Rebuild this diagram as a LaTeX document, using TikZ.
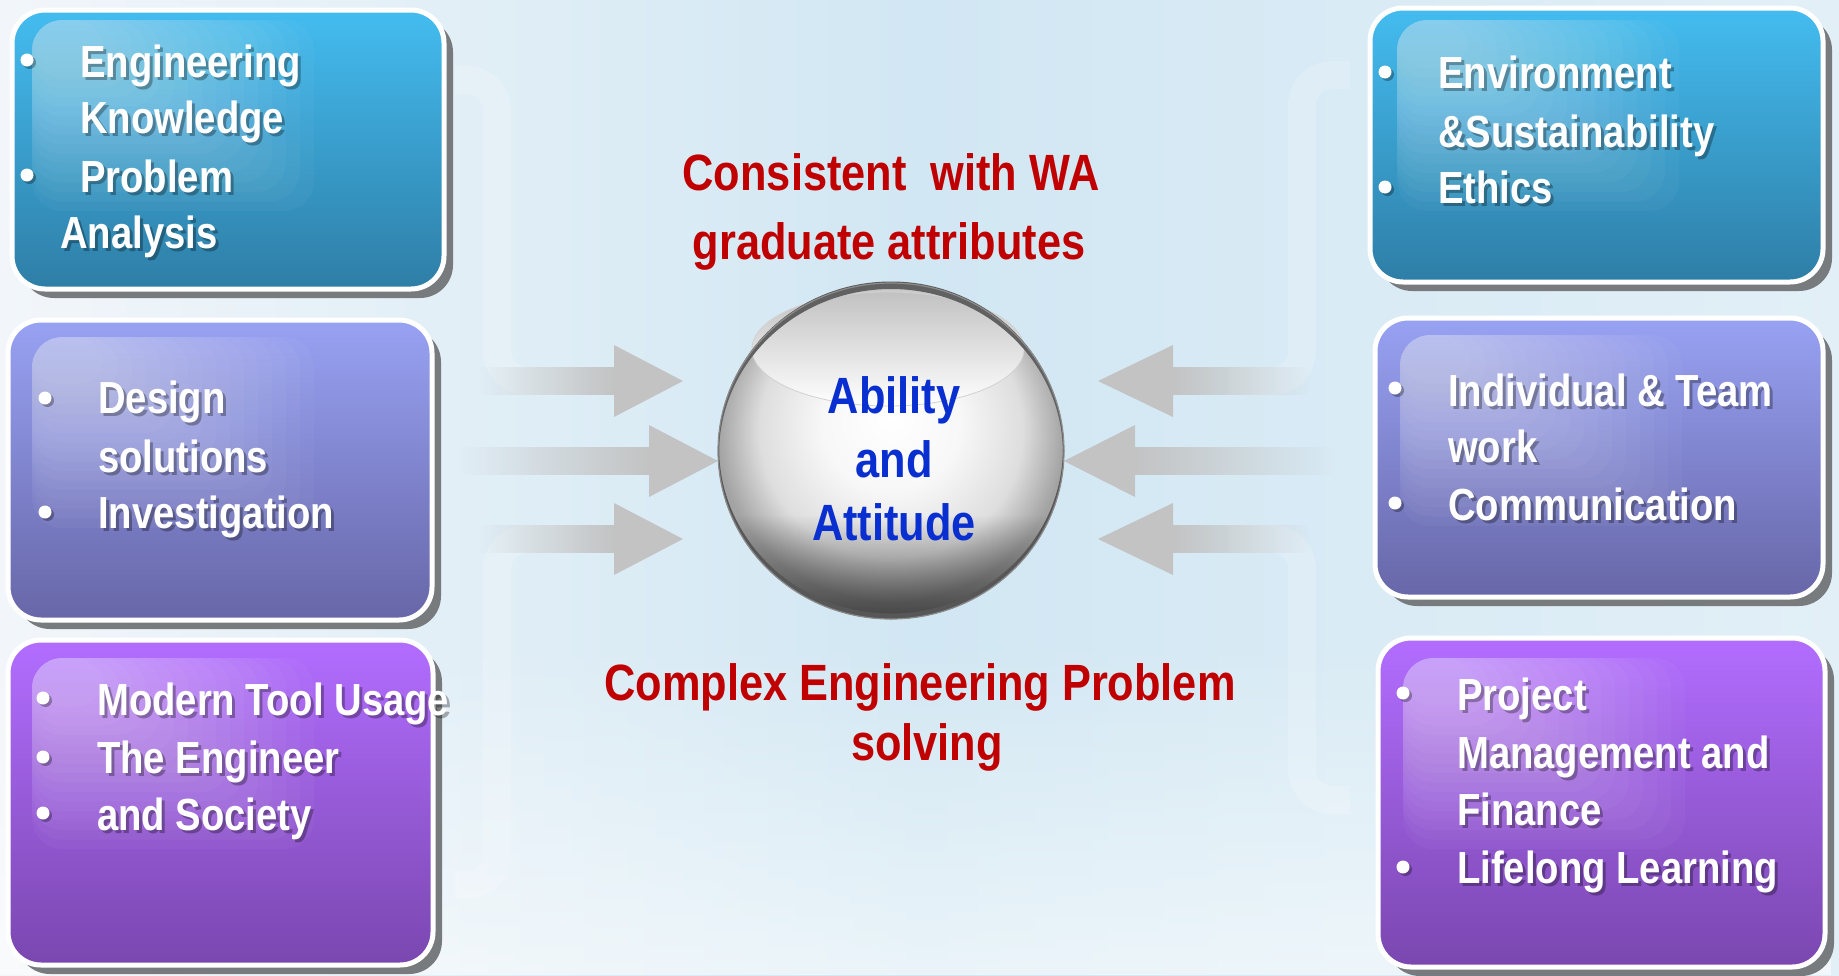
\documentclass[tikz,border=0pt]{standalone}
\usepackage{fontspec}
\newfontfamily\nb{Liberation Sans}[FakeStretch=0.85]
\usetikzlibrary{shapes.geometric,shadows,fadings}

\definecolor{bgL}{HTML}{F2F6FA}
\definecolor{bgM}{HTML}{D1E7F3}
\definecolor{bgR}{HTML}{E2EFF7}
\definecolor{blueT}{HTML}{44BCF0}
\definecolor{blueB}{HTML}{2E7EA6}
\definecolor{periT}{HTML}{98A2F3}
\definecolor{periB}{HTML}{6766A8}
\definecolor{purT}{HTML}{B26DFF}
\definecolor{purB}{HTML}{7A47AF}
\definecolor{shadowgray}{HTML}{777B7E}
\definecolor{arrowgray}{HTML}{C3C3C3}
\definecolor{redtxt}{HTML}{C00000}
\definecolor{bluetxt}{HTML}{0A2FD0}

\tikzfading[name=shaftR, left color=transparent!100, right color=transparent!0]
\tikzfading[name=shaftL, left color=transparent!0, right color=transparent!100]
\tikzfading[name=darkdown, top color=transparent!100, bottom color=transparent!40]
\tikzfading[name=lightbottom, top color=transparent!100, bottom color=transparent!45]

\pgfdeclareradialshading{sphereshade}{\pgfpoint{0bp}{5bp}}{color(0bp)=(white); color(10bp)=(white!97!black); color(19bp)=(white!87!black); color(25bp)=(white!64!black); color(50bp)=(white!64!black)}

\tikzset{
  box/.style={draw=white, line width=5pt, rounded corners=33pt, anchor=north west, inner sep=0pt,
    drop shadow={shadow xshift=9pt, shadow yshift=-9pt, fill=shadowgray, opacity=1}},
  wtxt/.style={anchor=base west, inner sep=0pt, text=white, font=\nb\bfseries\fontsize{45}{57}\selectfont},
  rtxt/.style={anchor=base, inner sep=0pt, text=redtxt, font=\nb\bfseries\fontsize{51}{60}\selectfont},
  btxt/.style={anchor=base, inner sep=0pt, text=bluetxt, font=\nb\bfseries\fontsize{51}{60}\selectfont},
  bulletdot/.style={circle, fill=white, minimum size=13pt, inner sep=0pt},
  bulletshadow/.style={circle, fill=black, opacity=0.3, minimum size=13pt, inner sep=0pt},
  band/.style={white, opacity=0.18, line width=28pt, rounded corners=30pt},
  glosslayer/.style={white, opacity=0.03, rounded corners=30pt},
}

\newcommand\wl[4]{%
  \node[wtxt, text=black, text opacity=0.3] at (#2+3,#3+3) {#4};
  \node[wtxt] (#1) at (#2,#3) {#4};}
\newcommand\bul[3]{%
  \node[bulletshadow] at (#2+2.5,#3+2.5) {};
  \node[bulletdot] (#1) at (#2,#3) {};}
\newcommand\glossat[2]{%
  \foreach \k in {3,...,18}{
    \fill[glosslayer] (#1,#2) rectangle ++(30+14*\k, 20+9.5*\k);
  }}
\newcommand\rarrow[5]{% name, startx, backx, tipx, cy
  \coordinate (#1) at (#4,#5);
  \fill[arrowgray, path fading=shaftR, fit fading=true] (#2,#5-14) rectangle (#3+2,#5+14);
  \fill[arrowgray] (#3,#5-36) -- (#1) -- (#3,#5+36) -- cycle;}
\newcommand\larrow[5]{% name, startx, backx, tipx, cy
  \coordinate (#1) at (#4,#5);
  \fill[arrowgray, path fading=shaftL, fit fading=true] (#3-2,#5-14) rectangle (#2,#5+14);
  \fill[arrowgray] (#3,#5-36) -- (#1) -- (#3,#5+36) -- cycle;}

\begin{document}
\begin{tikzpicture}[x=1pt, y=-1pt]
\useasboundingbox (0,0) rectangle (1839,975);
% background
\shade[left color=bgL, right color=bgR, middle color=bgM] (0,0) rectangle (1839,975);
\fill[white, path fading=lightbottom, fit fading=true] (0,640) rectangle (1839,975);

% faint connector bands
\draw[band] (455,80) -- (497,80) -- (497,381) -- (580,381);
\draw[band] (580,539) -- (497,539) -- (497,885) -- (455,885);
\draw[band] (1230,381) -- (1302,381) -- (1302,75) -- (1350,75);
\draw[band] (1230,539) -- (1302,539) -- (1302,800) -- (1350,800);

% arrows
\rarrow{aL1}{480}{614}{683}{381}
\rarrow{aL2}{460}{649}{718}{461}
\rarrow{aL3}{480}{614}{683}{539}
\larrow{aR1}{1310}{1173}{1098}{381}
\larrow{aR2}{1335}{1135}{1064}{461}
\larrow{aR3}{1310}{1173}{1098}{539}

% boxes
\node[box, top color=blueT, bottom color=blueB, minimum width=432pt, minimum height=279pt] (L1) at (9.5,7.5) {};
\node[box, top color=periT, bottom color=periB, minimum width=424pt, minimum height=300pt] (L2) at (5.5,317.5) {};
\node[box, top color=purT, bottom color=purB, minimum width=425pt, minimum height=325pt] (L3) at (5.5,637.5) {};
\node[box, top color=blueT, bottom color=blueB, minimum width=453pt, minimum height=274pt] (R1) at (1367.5,5.5) {};
\node[box, top color=periT, bottom color=periB, minimum width=448pt, minimum height=279pt] (R2) at (1372.5,315.5) {};
\node[box, top color=purT, bottom color=purB, minimum width=447pt, minimum height=329pt] (R3) at (1375.5,635.5) {};

\glossat{32}{20}
\glossat{32}{337}
\glossat{32}{658}
\glossat{1397}{20}
\glossat{1400}{335}
\glossat{1403}{658}

% box texts
\bul{bL1a}{27}{60}\bul{bL1b}{27}{175}
\wl{tEng}{80}{77}{Engineering}
\wl{tKno}{80}{133}{Knowledge}
\wl{tPro}{80}{192}{Problem}
\wl{tAna}{60}{248}{Analysis}

\bul{bL2a}{45}{398}\bul{bL2b}{45}{512}
\wl{tDes}{98}{413}{Design}
\wl{tSol}{98}{472}{solutions}
\wl{tInv}{98}{528}{Investigation}

\bul{bL3a}{43}{698}\bul{bL3b}{43}{757}\bul{bL3c}{43}{813}
\wl{tMod}{97}{715}{Modern Tool Usage}
\wl{tThe}{97}{773}{The Engineer}
\wl{tSoc}{97}{830}{and Society}

\bul{bR1a}{1385}{72}\bul{bR1b}{1385}{187}
\wl{tEnv}{1438}{88}{Environment}
\wl{tSus}{1438}{147}{\&Sustainability}
\wl{tEth}{1438}{203}{Ethics}

\bul{bR2a}{1395}{388}\bul{bR2b}{1395}{503}
\wl{tInd}{1448}{406}{Individual \& Team}
\wl{tWor}{1448}{462}{work}
\wl{tCom}{1448}{520}{Communication}

\bul{bR3a}{1403}{693}\bul{bR3b}{1403}{867}
\wl{tPrj}{1457}{710}{Project}
\wl{tMan}{1457}{768}{Management and}
\wl{tFin}{1457}{825}{Finance}
\wl{tLif}{1457}{883}{Lifelong Learning}

% central sphere
\node[ellipse, shade, shading=sphereshade, minimum width=346pt, minimum height=336pt, inner sep=0pt] (core) at (891,451) {};
\begin{scope}
  \clip (core.center) ellipse (173 and 168);
  \fill[black, path fading=darkdown, fit fading=true] (715,515) rectangle (1067,622);
\end{scope}
\shade[top color=white!76!black, bottom color=white] (888,349) ellipse (136 and 57);
\draw[white!82!black, line width=0.8pt] (888,349) ellipse (136 and 57);
% dark rims, thick at top and bottom, thin at the sides
\fill[black!62, even odd rule] (core.center) ellipse (173 and 168) (891,454) ellipse (172 and 165);
\fill[black!66, even odd rule] (core.center) ellipse (173 and 168) (891,447.5) ellipse (172 and 166);
\draw[black!45, line width=1.2pt] (core.center) ellipse (173 and 168);

\node[btxt] (ab1) at (894,413) {Ability};
\node[btxt] (ab2) at (894,477) {and};
\node[btxt] (ab3) at (894,540) {Attitude};

% red captions
\node[rtxt] (cap1) at (891,190) {Consistent\ \ with WA};
\node[rtxt] (cap2) at (889,259) {graduate attributes};
\node[rtxt] (cap3) at (920,700) {Complex Engineering Problem};
\node[rtxt] (cap4) at (927,760) {solving};
\end{tikzpicture}
\end{document}
